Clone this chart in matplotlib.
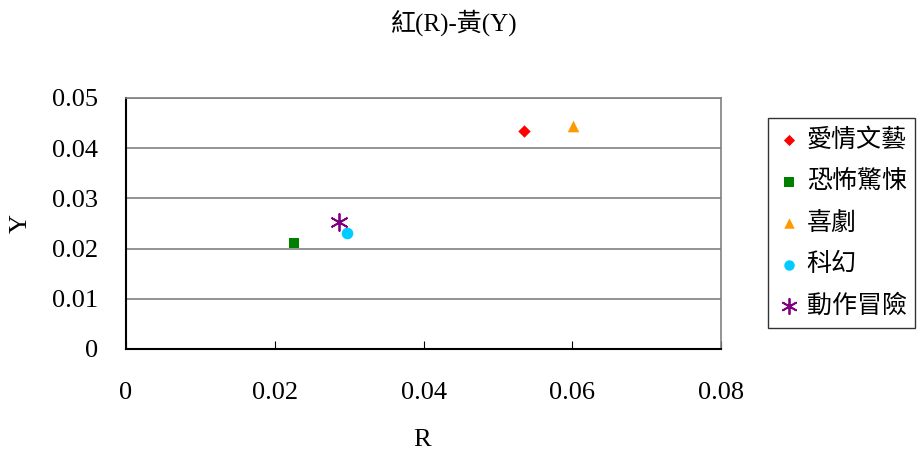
import matplotlib
matplotlib.use('Agg')
from matplotlib import pyplot as plt

genres = ['愛情文藝', '恐怖驚悚', '喜劇', '科幻', '動作冒險']
r_vals = [0.0535, 0.0226, 0.0601, 0.0297, 0.0287]
y_vals = [0.0434, 0.0211, 0.0445, 0.0231, 0.0253]
markers = ['D', 's', '^', 'o', (6, 2, 0)]
colors = ['#FF0000', '#008000', '#FF9900', '#00CCFF', '#800080']
sizes = [40, 60, 70, 70, 150]

x_ticks = [0, 0.02, 0.04, 0.06, 0.08]
x_tick_labels = ['0', '0.02', '0.04', '0.06', '0.08']
y_ticks = [0, 0.01, 0.02, 0.03, 0.04, 0.05]
y_tick_labels = ['0', '0.01', '0.02', '0.03', '0.04', '0.05']

fam = ['Liberation Serif', 'Noto Sans CJK TC', 'DejaVu Sans']
plt.rcParams['font.family'] = fam

fig = plt.figure(figsize=(9.24, 4.54), dpi=100)
ax = fig.add_axes([0.1364, 0.2313, 0.6439, 0.5529])

for g, x, y, m, c, s in zip(genres, r_vals, y_vals, markers, colors, sizes):
    if m == (6, 2, 0):
        ax.scatter(x, y, marker=m, s=s, color=c, linewidths=1.3, label=g, zorder=3)
    else:
        ax.scatter(x, y, marker=m, s=s, color=c, label=g, zorder=3, linewidths=0)

ax.set_xlim(0, 0.08)
ax.set_ylim(0, 0.05)
ax.set_xticks(x_ticks)
ax.set_xticklabels(x_tick_labels, fontsize=19)
ax.set_yticks(y_ticks)
ax.set_yticklabels(y_tick_labels, fontsize=19)
ax.tick_params(axis='x', direction='in', length=6, pad=24, color='black')
ax.tick_params(axis='y', direction='out', length=0, pad=20)
ax.grid(axis='y', color='#808080', linewidth=1.2)
ax.set_axisbelow(True)

for side in ['top', 'right']:
    ax.spines[side].set_color('#808080')
    ax.spines[side].set_linewidth(1.2)
for side in ['left', 'bottom']:
    ax.spines[side].set_color('black')
    ax.spines[side].set_linewidth(1.5)

fig.text(0.492, 0.951, '紅(R)-黃(Y)', ha='center', va='center', fontsize=18, family=fam)
fig.text(0.457, 0.03, 'R', ha='center', va='center', fontsize=19, family=fam)
fig.text(0.022, 0.507, 'Y', ha='center', va='center', fontsize=19, rotation=90, family=fam)

leg = ax.legend(loc='upper left', bbox_to_anchor=(0.831, 0.74), bbox_transform=fig.transFigure,
                frameon=True, fancybox=False, edgecolor='black', borderaxespad=0,
                handletextpad=0.2, handlelength=1.0, borderpad=0.35, labelspacing=0.62,
                markerscale=0.9,
                prop={'family': ['Noto Sans CJK TC', 'DejaVu Sans'], 'size': 18})
leg.get_frame().set_linewidth(1.0)

fig.savefig('out.png', dpi=100)
